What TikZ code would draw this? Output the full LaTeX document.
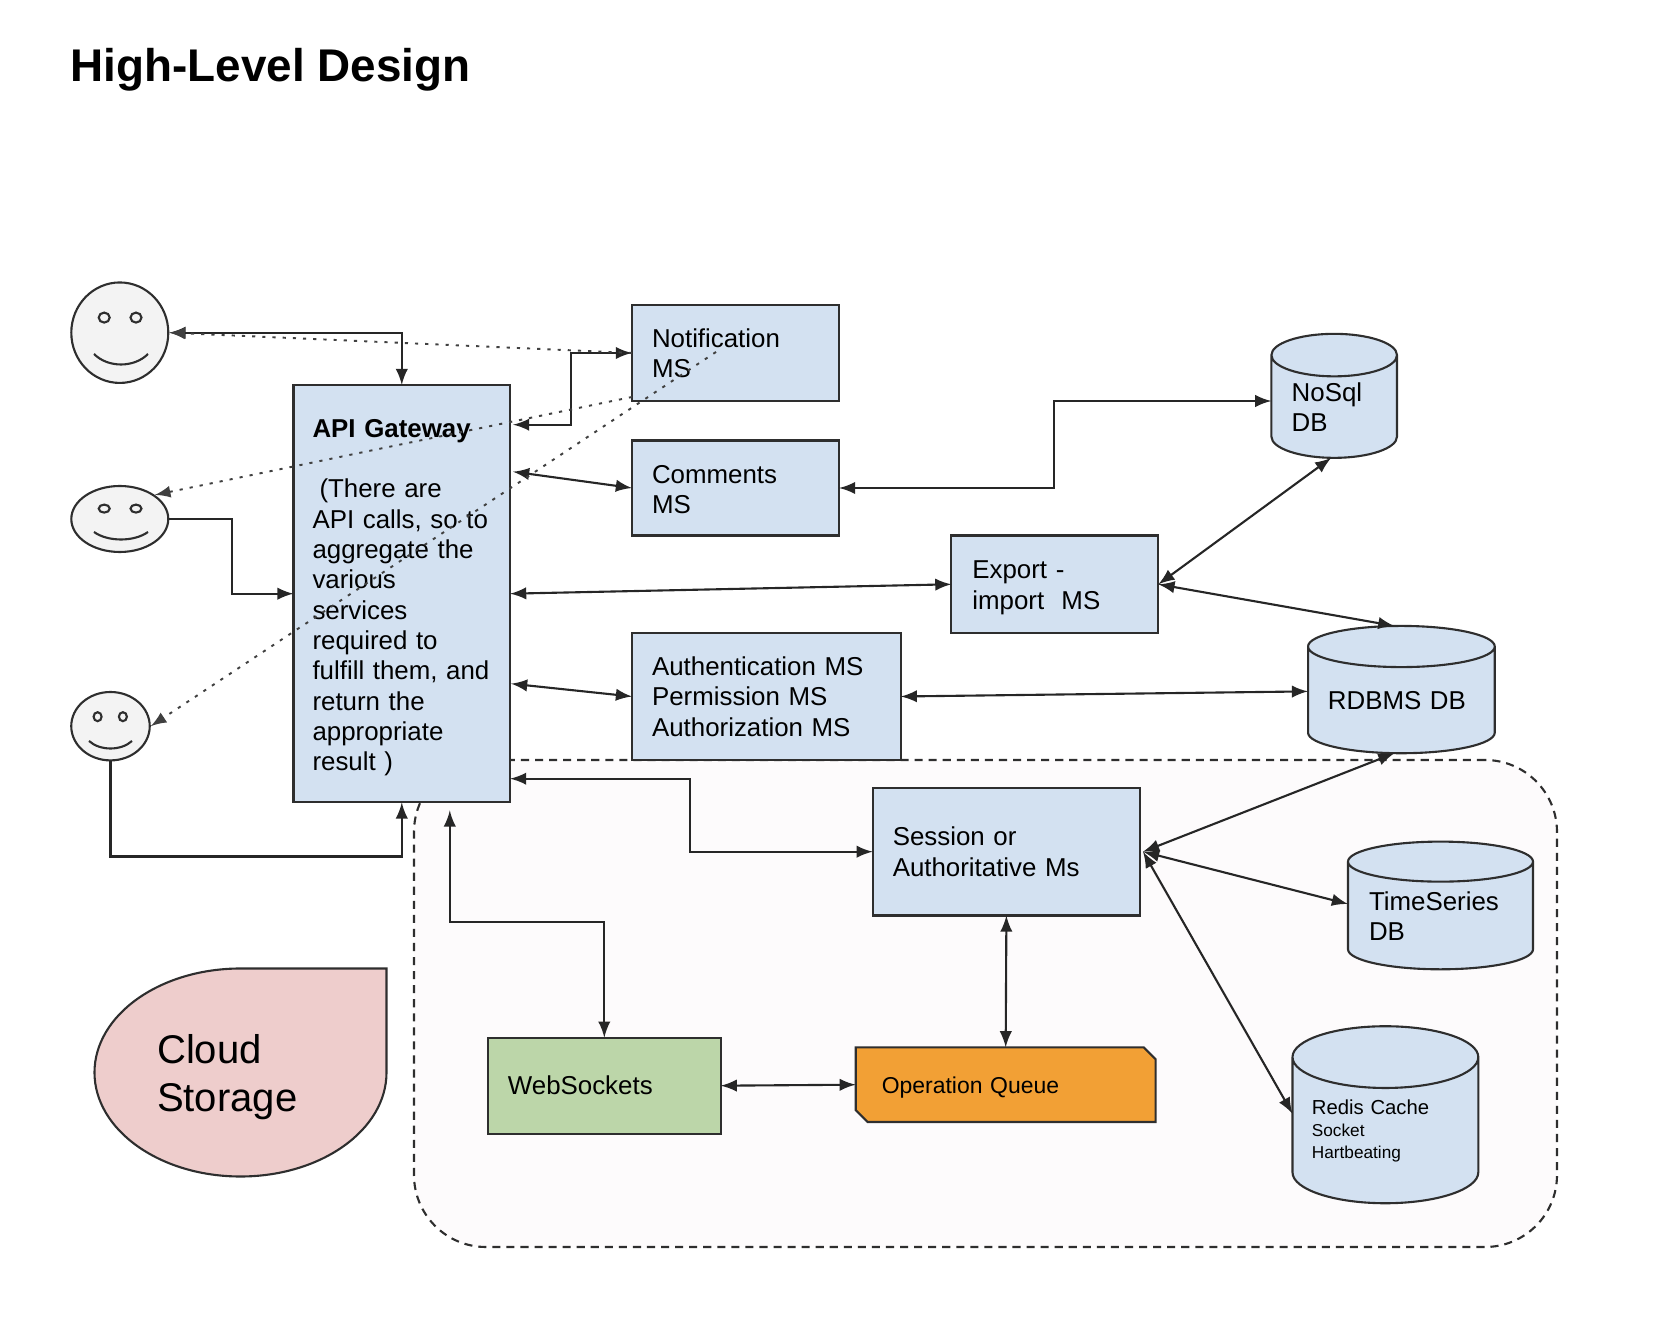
\documentclass[tikz,border=0pt]{standalone}
\usepackage{fontspec}
\setmainfont{Liberation Sans}
\usepackage{tikz}
\usetikzlibrary{arrows}
\usetikzlibrary{shapes,arrows}
\definecolor{boxblue}{HTML}{D3E1F1}
\definecolor{wsgreen}{HTML}{BCD6A9}
\definecolor{queueorange}{HTML}{F2A035}
\definecolor{cloudpink}{HTML}{EECDCC}
\definecolor{facegray}{HTML}{F3F3F3}
\definecolor{regionwhite}{HTML}{FDFBFC}
\definecolor{edgegray}{HTML}{2E2E2E}
\newcommand{\msfont}{\fontsize{7.36}{8.62}\selectfont}
\tikzstyle{conn} = [draw=black!85, {latex}-{latex}, line width=0.6pt]
\tikzstyle{oneway} = [draw=black!85, -{latex}, line width=0.6pt]
\tikzstyle{dotline} = [draw=black!75, -{latex}, line width=0.55pt, dash pattern=on 0.9pt off 2pt]
\tikzstyle{msbox} = [draw=edgegray, fill=boxblue, rectangle, line width=0.6pt, outer sep=0pt, inner xsep=0.2cm, inner ysep=0pt, align=left, font=\msfont]
\tikzstyle{dbcyl} = [draw=edgegray, fill=boxblue, cylinder, shape border rotate=90, line width=0.6pt, outer sep=0pt, inner sep=0pt, align=left, font=\msfont]
\tikzstyle{facenode} = [draw=edgegray, fill=facegray, ellipse, line width=0.6pt, inner sep=0pt]
\tikzstyle{facepart} = [draw=edgegray, line width=0.6pt]

\begin{document}
\begin{tikzpicture}
	\useasboundingbox (0,0) rectangle (16.68,-13.2);
	\node[anchor=west, inner sep=0pt, font=\fontsize{13.04}{16}\selectfont\bfseries] (title) at (0.70,-0.70) {High-Level Design};
	% -------------- Dashed region --------------
	\node[draw=edgegray, fill=regionwhite, rectangle, rounded corners=0.72cm, line width=0.6pt, dash pattern=on 2.3pt off 1.7pt, minimum width=11.43cm, minimum height=4.87cm] (region) at (9.855,-10.035) {};
	% -------------- Users --------------
	\node[facenode, minimum width=0.97cm, minimum height=1.005cm] (userA) at (1.198,-3.327) {};
	\draw[facepart] (1.042,-3.176) ellipse (0.055 and 0.05);
	\draw[facepart] (1.36,-3.176)  ellipse (0.055 and 0.05);
	\draw[facepart] (0.94,-3.54) .. controls (1.08,-3.68) and (1.34,-3.68) .. (1.48,-3.54);
	\node[facenode, minimum width=0.97cm, minimum height=0.66cm] (userB) at (1.198,-5.19) {};
	\draw[facepart] (1.042,-5.086) ellipse (0.055 and 0.04);
	\draw[facepart] (1.36,-5.086)  ellipse (0.055 and 0.04);
	\draw[facepart] (0.94,-5.32) .. controls (1.08,-5.42) and (1.34,-5.42) .. (1.48,-5.32);
	\node[facenode, minimum width=0.785cm, minimum height=0.684cm] (userC) at (1.105,-7.262) {};
	\draw[facepart] (0.976,-7.167) ellipse (0.04 and 0.045);
	\draw[facepart] (1.229,-7.167) ellipse (0.04 and 0.045);
	\draw[facepart] (0.89,-7.41) .. controls (1.0,-7.51) and (1.21,-7.51) .. (1.32,-7.41);
	% -------------- Services --------------
	\node[msbox, inner xsep=0.19cm, text width=1.785cm, minimum height=4.174cm] (gateway) at (4.018,-5.937) {\rule{0pt}{7.4pt}\textbf{API Gateway}\\[8.62pt]\hspace*{0.07cm}(There are\\API calls, so to\\aggregate the\\various\\services\\required to\\fulfill them, and\\return the\\appropriate\\result )};
	\node[msbox, text width=1.67cm, minimum height=0.96cm] (notif) at (7.355,-3.53) {Notification\\MS};
	\node[msbox, text width=1.67cm, minimum height=0.95cm] (comments) at (7.355,-4.88) {\rule{0pt}{6.2pt}Comments\\MS};
	\node[msbox, text width=2.287cm, minimum height=1.27cm] (auth) at (7.664,-6.965) {Authentication MS\\Permission MS\\Authorization MS};
	\node[msbox, inner xsep=0.21cm, text width=1.65cm, minimum height=0.975cm] (export) at (10.549,-5.843) {\rule{0pt}{7pt}Export -\\import~ MS};
	\node[msbox, text width=2.273cm, minimum height=1.277cm] (session) at (10.064,-8.517) {Session or\\Authoritative Ms};
	\node[msbox, fill=wsgreen, text width=1.927cm, minimum height=0.96cm] (wsocket) at (6.043,-10.857) {WebSockets};
	\node[msbox, fill=queueorange, chamfered rectangle, chamfered rectangle corners={north east,south west}, chamfered rectangle xsep=0.055cm, chamfered rectangle ysep=0.065cm, inner xsep=0.205cm, font=\fontsize{6.53}{8.4}\selectfont, text width=2.479cm, minimum height=0.747cm] (opqueue) at (10.057,-10.847) {\rule{0pt}{6.5pt}Operation Queue};
	% -------------- Databases --------------
	\node[dbcyl, aspect=0.5, text width=0.85cm, minimum width=1.256cm, minimum height=1.24cm] (nosql) at (13.342,-4.07) {NoSql\\DB};
	\node[dbcyl, aspect=0.28, text width=1.47cm, minimum width=1.867cm, minimum height=1.273cm] (rdbms) at (14.014,-7.004) {RDBMS DB};
	\node[dbcyl, aspect=0.28, text width=1.43cm, minimum width=1.85cm, minimum height=1.277cm] (tseries) at (14.405,-9.16) {TimeSeries\\DB};
	\node[dbcyl, aspect=0.42, text width=1.47cm, minimum width=1.858cm, minimum height=1.77cm, font=\fontsize{5.77}{6.24}\selectfont] (redis) at (13.854,-11.307) {Redis Cache\\{\fontsize{4.9}{6.24}\selectfont Socket}\\{\fontsize{4.9}{6.24}\selectfont Hartbeating}};
	% -------------- Cloud --------------
	\draw[draw=edgegray, fill=cloudpink, line width=0.6pt] (3.865,-9.685) -- (3.865,-10.725) arc[start angle=0, end angle=-270, x radius=1.46, y radius=1.04] -- cycle;
	\node[anchor=west, inner sep=0pt, align=left, font=\fontsize{11.4}{13.6}\selectfont] (cloud) at (1.564,-10.772) {Cloud\\Storage};
	% -------------- Connectors --------------
	\draw[conn] (userA.east) -| (gateway.north);
	\draw[oneway] (userB.east) -- ++(0.63,0) |- (gateway.west);
	\draw[oneway] (userC.south) -- ++(0,-0.95) -| (gateway.south);
	\draw[conn] ([xshift=0.03cm,yshift=1.69cm]gateway.east) -- ++(0.58,0) |- (notif.west);
	\draw[conn] ([xshift=0.03cm,yshift=1.22cm]gateway.east) -- (comments.west);
	\draw[conn] (gateway.east) -- (export.west);
	\draw[conn] ([xshift=0.01cm,yshift=-0.9cm]gateway.east) -- (auth.west);
	\draw[conn] ([yshift=-1.85cm]gateway.east) -- ++(1.8,0) |- (session.west);
	\draw[conn] ([xshift=0.48cm,yshift=-0.08cm]gateway.south) -- ++(0,-1.12) -| (wsocket.north);
	\draw[conn] (comments.east) -- ++(2.15,0) |- ([yshift=0.06cm]nosql.west);
	\draw[conn] (export.east) -- ([xshift=-0.03cm]nosql.south);
	\draw[conn] (export.east) -- ([xshift=-0.07cm]rdbms.north);
	\draw[conn] (auth.east) -- ([yshift=0.09cm]rdbms.west);
	\draw[conn] ([xshift=-0.07cm]rdbms.south) -- ([xshift=0.03cm]session.east);
	\draw[conn] ([xshift=0.03cm]session.east) -- ([yshift=0.12cm]tseries.west);
	\draw[conn] ([xshift=0.03cm]session.east) -- ([yshift=0.17cm]redis.west);
	\draw[conn] (session.south) -- (opqueue.north);
	\draw[conn] (wsocket.east) -- (opqueue.west);
	% -------------- Dotted replies --------------
	\coordinate (notifdot) at (7.16,-3.52);
	\draw[dotline] (notif.west) -- (userA.east);
	\draw[dotline] ([yshift=0.04cm]notif.south west) -- (userB.north east);
	\draw[dotline] (notifdot) -- (userC.east);
\end{tikzpicture}
\end{document}
